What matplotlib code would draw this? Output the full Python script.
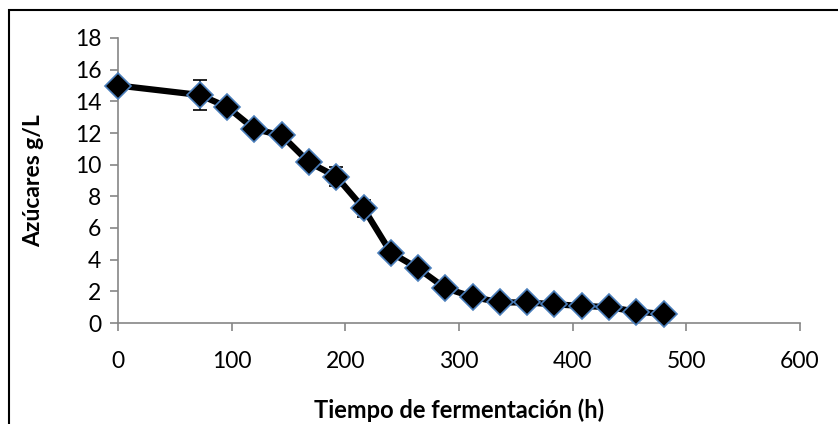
import numpy as np
import matplotlib.pyplot as plt
from matplotlib.patches import Rectangle

# tiempo (h) y azucares (g/L)
tiempo = [0, 72, 96, 120, 144, 168, 192, 216, 240, 264, 288, 312, 336, 360, 384, 408, 432, 456, 480]
azucares = [15.0, 14.4, 13.65, 12.25, 11.85, 10.15, 9.25, 7.25, 4.45, 3.45, 2.2, 1.65, 1.3, 1.3, 1.18, 1.08, 1.0, 0.72, 0.57]
error = [0.05, 0.95, 0.25, 0.15, 0.15, 0.2, 0.6, 0.55, 0.15, 0.15, 0.1, 0.1, 0.1, 0.1, 0.05, 0.05, 0.05, 0.05, 0.05]

x_ticks = [0, 100, 200, 300, 400, 500, 600]
y_ticks = [0, 2, 4, 6, 8, 10, 12, 14, 16, 18]

plt.rcParams['font.family'] = ['Lato', 'DejaVu Sans']

fig = plt.figure(figsize=(8.38, 4.24), dpi=100)
ax = fig.add_axes([118/838, 1-323/424, (800-118)/838, (323-38)/424])

ax.errorbar(tiempo, azucares, yerr=error, fmt='none', ecolor='black', elinewidth=1.2, capsize=5, capthick=1.2, zorder=2)
ax.plot(tiempo, azucares, color='black', linewidth=4.5, marker='D', markersize=13,
        markerfacecolor='black', markeredgecolor='#4a7ebb', markeredgewidth=1.2, zorder=3, clip_on=False)

ax.set_xlim(0, 600)
ax.set_ylim(0, 18)
ax.set_xticks(x_ticks)
ax.set_yticks(y_ticks)
ax.tick_params(labelsize=16.5, length=6, color='#868686', width=1.2, pad=6)
ax.tick_params(axis='x', pad=14)
for s in ['top', 'right']:
    ax.spines[s].set_visible(False)
for s in ['left', 'bottom']:
    ax.spines[s].set_color('#868686')
    ax.spines[s].set_linewidth(1.2)

ax.set_xlabel('Tiempo de fermentación (h)', fontsize=17, fontweight='bold', labelpad=19)
ax.set_ylabel('Azúcares g/L', fontsize=16.5, fontweight='bold', labelpad=22)

# marco del grafico (recortado a la derecha y abajo)
fig.patches.append(Rectangle((9/838, -10/424), 900/838, 424/424, transform=fig.transFigure,
                             fill=False, edgecolor='black', linewidth=1.5))

fig.savefig('out.png', dpi=100)
